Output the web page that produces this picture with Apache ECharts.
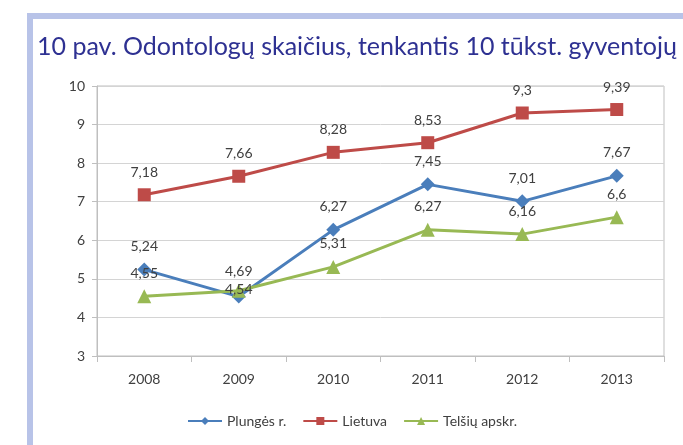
<!DOCTYPE html>
<html>
<head>
<meta charset="utf-8">
<script src="https://cdn.jsdelivr.net/npm/echarts@6/dist/echarts.min.js"></script>
<style>
  html, body { margin: 0; padding: 0; background: #fff; }
  .frame {
    position: absolute; left: 27px; top: 13px; width: 700px; height: 500px;
    border-left: 6px solid #b8c3e8; border-top: 6px solid #b8c3e8;
  }
  #chart { position: absolute; left: 0; top: 0; width: 683px; height: 445px; }
</style>
</head>
<body>
<div class="frame"></div>
<div id="chart"></div>
<script>
const years = ['2008', '2009', '2010', '2011', '2012', '2013'];
const plunges = [5.24, 4.54, 6.27, 7.45, 7.01, 7.67];
const lietuva = [7.18, 7.66, 8.28, 8.53, 9.3, 9.39];
const telsiu = [4.55, 4.69, 5.31, 6.27, 6.16, 6.6];

const font = 'Lato';

// nudge a few labels the way they sit in the original (index -> distance)
function lineSeries(name, data, color, symbol, size, nudge) {
  nudge = nudge || {};
  return {
    name: name,
    type: 'line',
    data: data.map((v, i) => nudge[i] === undefined ? v : { value: v, label: { distance: nudge[i] } }),
    symbol: symbol,
    symbolSize: size,
    lineStyle: { color: color, width: 3 },
    itemStyle: { color: color },
    label: {
      show: true,
      position: 'top',
      distance: 9,
      fontFamily: font,
      fontSize: 14,
      color: '#404040',
      formatter: p => String(p.value).replace('.', ',')
    },
    emphasis: { disabled: true },
    animation: false
  };
}

echarts.init(document.getElementById('chart'), null, {
  renderer: 'canvas',
  width: 683,
  height: 445,
}).setOption({
  title: {
    text: '10 pav. Odontologų skaičius, tenkantis 10 tūkst. gyventojų',
    left: 37,
    top: 34,
    padding: 0,
    textStyle: {
      fontFamily: font,
      fontSize: 25,
      fontWeight: 'normal',
      color: '#2e3192'
    }
  },
  grid: {
    left: 97,
    right: 19,
    top: 86,
    bottom: 89,
    show: true,
    borderColor: '#bfbfbf',
    borderWidth: 1
  },
  legend: {
    left: 182,
    top: 409,
    itemWidth: 34,
    itemHeight: 10,
    itemGap: 16,
    selectedMode: false,
    textStyle: { fontFamily: font, fontSize: 14, color: '#404040' },
    data: ['Plungės r.', 'Lietuva', 'Telšių apskr.']
  },
  xAxis: {
    type: 'category',
    data: years,
    boundaryGap: true,
    axisLine: { lineStyle: { color: '#bfbfbf' } },
    axisTick: { show: true, length: 6, lineStyle: { color: '#bfbfbf' } },
    axisLabel: { fontFamily: font, fontSize: 14, color: '#404040', margin: 16 }
  },
  yAxis: {
    type: 'value',
    min: 3,
    max: 10,
    interval: 1,
    axisLine: { show: true, lineStyle: { color: '#bfbfbf' } },
    axisTick: { show: true, length: 5, lineStyle: { color: '#bfbfbf' } },
    axisLabel: { fontFamily: font, fontSize: 14, color: '#404040', margin: 12 },
    splitLine: { lineStyle: { color: '#d4d4d4', width: 1 } }
  },
  series: [
    lineSeries('Plungės r.', plunges, '#4a7ebb', 'diamond', 14, { 1: -7 }),
    lineSeries('Lietuva', lietuva, '#be4b48', 'rect', 13),
    lineSeries('Telšių apskr.', telsiu, '#98b954', 'triangle', 14, { 1: 5 })
  ]
});
</script>
</body>
</html>
